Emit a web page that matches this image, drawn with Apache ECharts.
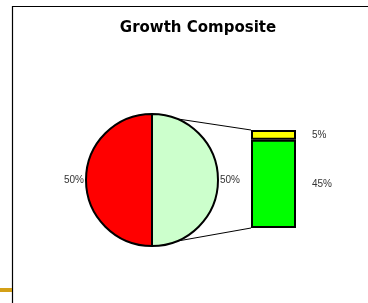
<!DOCTYPE html>
<html>
<head>
<meta charset="utf-8">
<script src="https://cdn.jsdelivr.net/npm/echarts@6/dist/echarts.min.js"></script>
<style>html,body{margin:0;padding:0;background:#fff}#c{width:368px;height:303px}</style>
</head>
<body>
<div id="c"></div>
<script>
var title = 'Growth Composite';
var pieNames = ['Other', 'Main'];
var pieValues = [50, 50];
var pieColors = ['#CCFFCC', '#FF0000'];
var barNames = ['45%', '5%'];
var barValues = [45, 5];
var barColors = ['#00FF00', '#FFFF00'];

var chart = echarts.init(document.getElementById('c'), null, {renderer: 'canvas'});
var PC = [152, 180], PR = 66;
var option = {
  animation: false,
  backgroundColor: '#fff',
  title: {
    text: title, left: 193, textAlign: 'center', top: 16,
    textStyle: {fontFamily: 'DejaVu Sans', fontWeight: 'bold', fontSize: 15, color: '#000'}
  },
  grid: {left: 251, top: 130, width: 45, height: 98},
  xAxis: {type: 'category', data: ['x'], show: false},
  yAxis: {type: 'value', min: 0, max: 50, show: false},
  series: [
    {
      type: 'pie', center: PC, radius: PR, startAngle: 90, clockwise: true,
      data: pieValues.map(function (v, i) { return {name: pieNames[i], value: v, itemStyle: {color: pieColors[i]}}; }),
      itemStyle: {borderColor: '#000', borderWidth: 2},
      label: {show: true, position: 'outside', formatter: '{c}%', fontFamily: 'Liberation Sans', fontSize: 10, color: '#333', distanceToLabelLine: 2},
      labelLine: {show: false, length: 0, length2: 0},
      emphasis: {disabled: true}
    },
    {
      type: 'bar', stack: 's', barWidth: '100%', data: [barValues[0]],
      itemStyle: {color: barColors[0], borderColor: '#000', borderWidth: 2},
      label: {show: true, position: 'right', distance: 16, formatter: '{c}%', fontFamily: 'Liberation Sans', fontSize: 10, color: '#333'}
    },
    {
      type: 'bar', stack: 's', barWidth: '100%', data: [barValues[1]],
      itemStyle: {color: barColors[1], borderColor: '#000', borderWidth: 2},
      label: {show: true, position: 'right', distance: 16, formatter: '{c}%', fontFamily: 'Liberation Sans', fontSize: 10, color: '#333'}
    }
  ]
};
chart.setOption(option);

var barTop = chart.convertToPixel({gridIndex: 0}, [0, 50]);
var barBot = chart.convertToPixel({gridIndex: 0}, [0, 0]);
var barLeft = 251;
var ang = 68 * Math.PI / 180;
var p1 = [PC[0] + PR * Math.cos(ang), PC[1] - PR * Math.sin(ang)];
var p2 = [PC[0] + PR * Math.cos(ang), PC[1] + PR * Math.sin(ang)];
chart.setOption({
  graphic: [
    {type: 'rect', shape: {x: 12.5, y: 6.5, width: 400, height: 400}, style: {fill: 'none', stroke: '#000', lineWidth: 1.2}, z: 10},
    {type: 'rect', shape: {x: 0, y: 288, width: 12, height: 4}, style: {fill: '#D4A017'}, z: 10},
    {type: 'line', shape: {x1: p1[0], y1: p1[1], x2: barLeft, y2: barTop[1]}, style: {stroke: '#000', lineWidth: 1}, z: 1},
    {type: 'line', shape: {x1: p2[0], y1: p2[1], x2: barLeft, y2: barBot[1]}, style: {stroke: '#000', lineWidth: 1}, z: 1}
  ]
});
</script>
</body>
</html>
